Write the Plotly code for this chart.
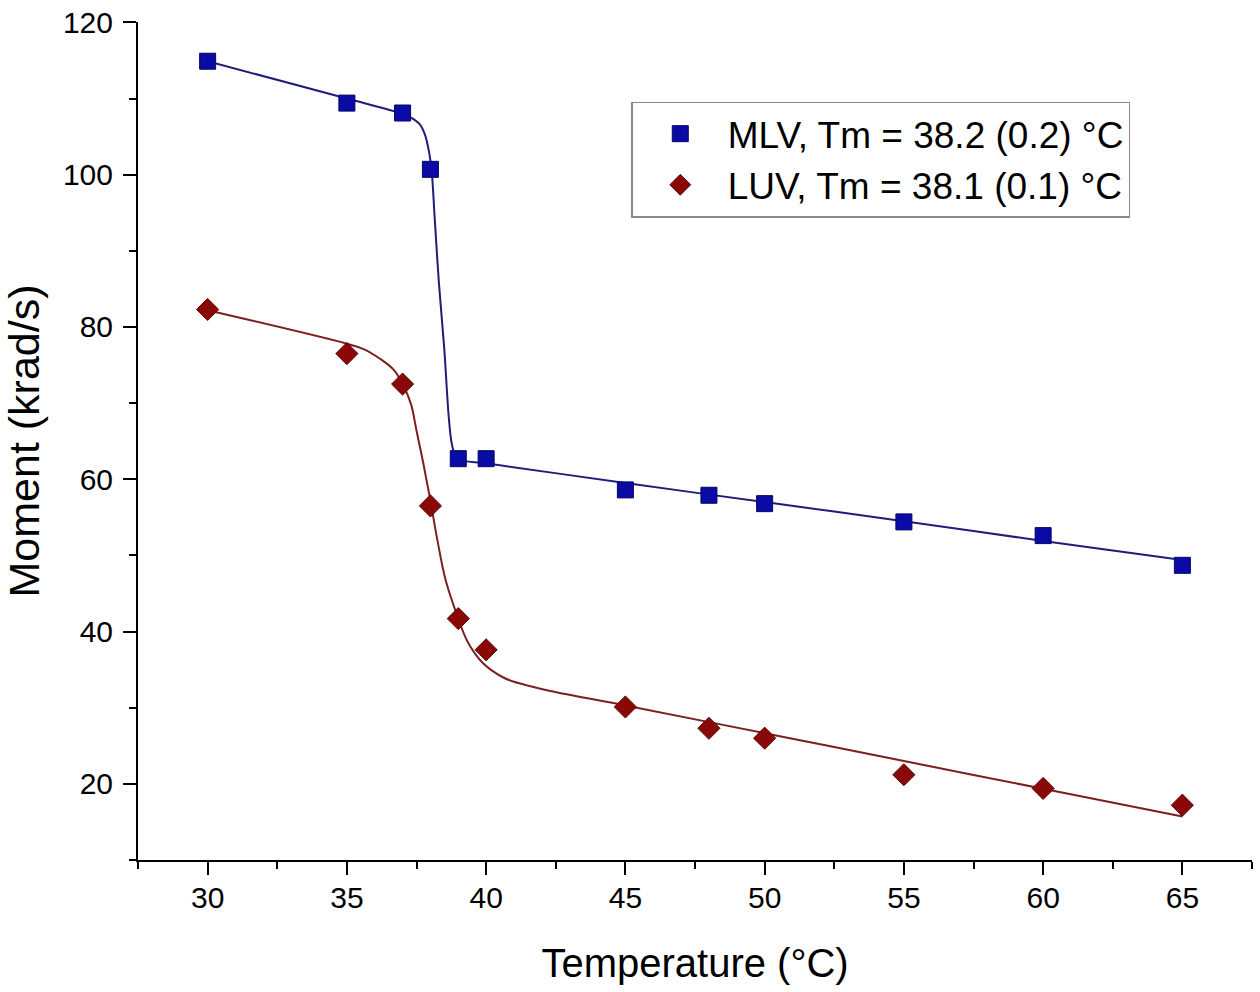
import plotly.graph_objects as go

# Measured data points
temperature = [30, 35, 37, 38, 39, 40, 45, 48, 50, 55, 60, 65]
mlv_moment = [114.9, 109.4, 108.1, 100.7, 62.7, 62.7, 58.6, 57.9, 56.8, 54.4, 52.6, 48.7]
luv_moment = [82.3, 76.5, 72.5, 56.5, 41.7, 37.6, 30.1, 27.3, 26.0, 21.2, 19.4, 17.2]

# Fitted curves
mlv_fit_t = [30, 35, 37, 37.3, 37.6, 37.8, 37.95, 38.05, 38.15, 38.3, 38.5, 38.65,
             38.75, 38.85, 39.0, 40, 45, 50, 55, 60, 65]
mlv_fit_m = [114.9, 110.0, 108.0, 107.5, 106.7, 105.3, 103.0, 100.3, 94.5, 86.0, 77.0, 68.5,
             65.0, 63.5, 62.6, 62.1, 59.5, 57.0, 54.5, 51.9, 49.4]
luv_fit_t = [30, 35, 35.6, 36.2, 36.7, 37, 37.3, 37.5, 37.75, 38.0, 38.25, 38.55, 39.0,
             39.3, 39.6, 39.9, 40.2, 40.6, 41.0, 41.5, 42.3, 45, 50, 55, 60, 65]
luv_fit_m = [82.2, 77.8, 77.1, 75.8, 74.3, 72.5, 69.9, 66.4, 62.0, 57.2, 52.0, 46.7, 41.7,
             38.9, 37.1, 35.8, 34.9, 34.0, 33.4, 32.9, 32.2, 30.3, 26.65, 23.0, 19.35, 15.7]

mlv_label = "MLV, Tm = 38.2 (0.2) °C"
luv_label = "LUV, Tm = 38.1 (0.1) °C"

FONT = "Arial, 'Liberation Sans', sans-serif"
BLUE = "#0A0AA5"
BLUE_LINE = "#1E1E78"
RED = "#8B0808"
RED_LINE = "#7A2020"

fig = go.Figure()
fig.add_trace(go.Scatter(x=mlv_fit_t, y=mlv_fit_m, mode="lines", showlegend=False,
                         line=dict(color=BLUE_LINE, width=2, shape="spline", smoothing=0.8),
                         hoverinfo="skip"))
fig.add_trace(go.Scatter(x=luv_fit_t, y=luv_fit_m, mode="lines", showlegend=False,
                         line=dict(color=RED_LINE, width=2, shape="spline", smoothing=1.0),
                         hoverinfo="skip"))
fig.add_trace(go.Scatter(x=temperature, y=mlv_moment, mode="markers", name=mlv_label,
                         marker=dict(symbol="square", size=16, color=BLUE,
                                     line=dict(color="#05056A", width=1))))
fig.add_trace(go.Scatter(x=temperature, y=luv_moment, mode="markers", name=luv_label,
                         marker=dict(symbol="diamond", size=17, color=RED,
                                     line=dict(color="#5A0505", width=1))))

axis_common = dict(
    showline=True, linewidth=2, linecolor="black", mirror=False,
    ticks="outside", ticklen=13, tickwidth=2, tickcolor="black",
    showgrid=False, zeroline=False, automargin=False, ticklabeloverflow="allow",
    tickfont=dict(family=FONT, size=30, color="black"),
)

fig.update_xaxes(
    range=[27.5, 67.5], tickmode="linear", tick0=0, dtick=5,
    minor=dict(dtick=2.5, tick0=27.5, ticklen=7, tickwidth=2, ticks="outside",
               tickcolor="black", showgrid=False),
    ticklabelstandoff=-3,
    title=dict(text="Temperature (°C)", font=dict(family=FONT, size=40, color="black"),
               standoff=36),
    **axis_common,
)
fig.update_yaxes(
    range=[10, 120.05], tickmode="linear", tick0=0, dtick=20,
    minor=dict(dtick=10, tick0=0, ticklen=7, tickwidth=2, ticks="outside",
               tickcolor="black", showgrid=False),
    ticklabelstandoff=4,
    title=dict(text="Moment (krad/s)", font=dict(family=FONT, size=43, color="black"),
               standoff=18),
    **axis_common,
)

fig.update_layout(
    width=1260, height=992,
    margin=dict(l=137.5, r=8, t=22, b=132),
    plot_bgcolor="white", paper_bgcolor="white",
    font=dict(family=FONT, color="black"),
    legend=dict(
        x=0.4428, y=0.905, xanchor="left", yanchor="top",
        bgcolor="white", bordercolor="#8A8A8A", borderwidth=1.5,
        font=dict(family=FONT, size=37, color="black"),
        itemwidth=85,
    ),
)

# remove the browser's default 8px page margin so the figure fills the window
fig.write_html(
    "out.html",
    config={"displayModeBar": False},
    post_script="document.body.style.margin='0';document.body.style.overflow='hidden';",
)
